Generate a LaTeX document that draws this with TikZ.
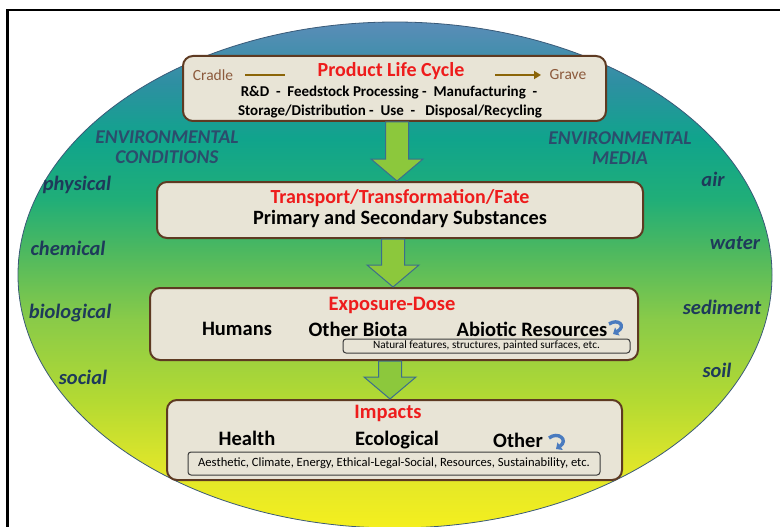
\documentclass[tikz,border=0pt]{standalone}
\usepackage{fontspec}
\setmainfont{Carlito}
\usepackage{tikz}
\usetikzlibrary{arrows.meta,calc}

\definecolor{boxfill}{HTML}{E8E4D6}
\definecolor{boxline}{HTML}{5E3A22}
\definecolor{titlered}{HTML}{EE1C1C}
\definecolor{cradlebrown}{HTML}{8C5A3C}
\definecolor{lifeline}{HTML}{8B6508}
\definecolor{labelnavy}{HTML}{1E3A5A}
\definecolor{headnavy}{HTML}{2C4C6C}
\definecolor{arrowgreen}{HTML}{8CC83C}
\definecolor{arrowline}{HTML}{3C6E8C}
\definecolor{hookblue}{HTML}{4A7BBF}
\definecolor{notegray}{HTML}{3A3A3A}
\definecolor{edgeblue}{HTML}{3A5A78}

% background of the ellipse, bottom (yellow) to top (steel blue)
\pgfdeclareverticalshading{envshade}{100bp}{%
  color(0bp)=({rgb,255:red,244;green,239;blue,30});
  color(25bp)=({rgb,255:red,244;green,239;blue,30});
  color(31bp)=({rgb,255:red,224;green,230;blue,42});
  color(37.5bp)=({rgb,255:red,180;green,218;blue,50});
  color(45.5bp)=({rgb,255:red,138;green,203;blue,72});
  color(52.5bp)=({rgb,255:red,76;green,184;blue,96});
  color(57.5bp)=({rgb,255:red,32;green,174;blue,120});
  color(63.5bp)=({rgb,255:red,16;green,164;blue,140});
  color(69bp)=({rgb,255:red,46;green,143;blue,162});
  color(75bp)=({rgb,255:red,91;green,141;blue,184});
  color(100bp)=({rgb,255:red,91;green,141;blue,184})}

\tikzset{
  stagebox/.style={draw=boxline, line width=2, fill=boxfill, rounded corners=10},
  stagetitle/.style={font=\fontsize{20}{22}\selectfont\bfseries, text=titlered},
  stageitem/.style={font=\fontsize{20.5}{22}\selectfont\bfseries},
  stepline/.style={font=\fontsize{15}{17}\selectfont\bfseries},
  endlabel/.style={font=\fontsize{15.5}{17}\selectfont, text=cradlebrown},
  notebox/.style={draw=notegray, line width=1, rounded corners=3, fill=boxfill,
    font=\fontsize{11.2}{12}\selectfont, inner sep=0pt},
  sidelabel/.style={font=\fontsize{20.5}{22}\selectfont\bfseries\itshape, text=labelnavy},
  headlabel/.style={font=\fontsize{19.5}{20}\selectfont\bfseries\itshape, text=headnavy, align=center},
  flowarrow/.style={draw=arrowline, line width=1, fill=arrowgreen},
  hook/.style={draw=hookblue, line width=3.4, -{Triangle[width=9pt,length=5pt]}}
}

% big green arrow between two stages, at a given x
\newcommand\flowarrow[3]{%
  \draw[flowarrow] let \p1=(#1,0), \p2=(#2.south), \p3=(#3.north) in
    (\x1-11.5pt,\y2) -- (\x1+11.5pt,\y2) -- (\x1+11.5pt,\y3+22pt)
    -- (\x1+26pt,\y3+22pt) -- (\x1,\y3) -- (\x1-26pt,\y3+22pt)
    -- (\x1-11.5pt,\y3+22pt) -- cycle;
}

\begin{document}
\begin{tikzpicture}[x=1pt,y=-1pt]
    \useasboundingbox (0,0) rectangle (780,527);

    % Frame (left and top only)
    \draw[line width=2.5] (7.5,530) -- (7.5,10) -- (782,10);

    % Background ellipse
    \shade[shading=envshade, draw=edgeblue, line width=0.8]
        (395,275) ellipse [x radius=377, y radius=253];

    % Side labels
    \node[headlabel] (condhead) at (167,147) {ENVIRONMENTAL\\CONDITIONS};
    \node[headlabel] (mediahead) at (620,148) {ENVIRONMENTAL\\MEDIA};
    \foreach \lbl/\x/\y in {physical/77/185, chemical/68/248, biological/70/313, social/83/377} {
        \node[sidelabel] (\lbl) at (\x,\y) {\lbl};
    }
    \foreach \lbl/\x/\y in {air/713/179, water/735/243, sediment/722/307, soil/717/370} {
        \node[sidelabel] (\lbl) at (\x,\y) {\lbl};
    }

    % Product life cycle
    \node[stagebox, minimum width=423, minimum height=65] (cycle) at (394.5,88.5) {};
    \node[stagetitle] (cycletitle) at (391,71) {Product Life Cycle};
    \node[endlabel] (cradle) at (213,75) {Cradle};
    \node[endlabel] (grave) at (568,75) {Grave};
    \coordinate (lc1) at (245,75);
    \coordinate (lc2) at (285,75);
    \coordinate (lc3) at (495,75);
    \coordinate (lc4) at (541,75);
    \draw[lifeline, line width=2] (lc1) -- (lc2);
    \draw[lifeline, line width=2, -{Triangle[width=8pt,length=7pt]}] (lc3) -- (lc4);
    \node[stepline] (steps1) at (389,93) {R\&D\ \ -\ \ Feedstock Processing -\ \ Manufacturing\ \ -};
    \node[stepline] (steps2) at (390,111) {Storage/Distribution -\ \ Use\ \ -\ \ \ Disposal/Recycling};

    % Transport / fate
    \node[stagebox, minimum width=486, minimum height=56] (fate) at (400,210) {};
    \node[stagetitle] (fatetitle) at (400,198) {Transport/Transformation/Fate};
    \node[stageitem, font=\fontsize{20.3}{22}\selectfont\bfseries] (substances) at (400,219) {Primary and Secondary Substances};

    % Exposure / dose
    \node[stagebox, minimum width=488, minimum height=72] (dose) at (394,324) {};
    \node[stagetitle, font=\fontsize{20.5}{22}\selectfont\bfseries] (dosetitle) at (392,305) {Exposure-Dose};
    \node[stageitem] (humans) at (237,329) {Humans};
    \node[stageitem] (biota) at (358,329) {Other Biota};
    \node[stageitem] (abiotic) at (532,329) {Abiotic Resources};
    \coordinate (h1a) at (609,324);
    \coordinate (h1b) at (613,334);
    \draw[hook] (h1a) .. controls (618,318) and (627,326) .. (h1b);
    \node[notebox, minimum width=287, minimum height=14] (features) at (486.5,346)
        {Natural features, structures, painted surfaces, etc.};

    % Impacts
    \node[stagebox, minimum width=455, minimum height=80] (impact) at (394.5,440) {};
    \node[stagetitle, font=\fontsize{20.5}{22}\selectfont\bfseries] (impacttitle) at (388,413) {Impacts};
    \node[stageitem] (health) at (247,438) {Health};
    \node[stageitem] (ecological) at (397,440) {Ecological};
    \node[stageitem] (other) at (518,440) {Other};
    \coordinate (h2a) at (549,438);
    \coordinate (h2b) at (556,449);
    \draw[hook] (h2a) .. controls (558,431) and (569,440) .. (h2b);
    \node[notebox, minimum width=412, minimum height=23, font=\fontsize{12.6}{14}\selectfont] (domains) at (394,463.5)
        {Aesthetic, Climate, Energy, Ethical-Legal-Social, Resources, Sustainability, etc.};

    % Arrows between stages
    \flowarrow{397}{cycle}{fate}
    \flowarrow{393}{fate}{dose}
    \flowarrow{390}{dose}{impact}

\end{tikzpicture}
\end{document}
